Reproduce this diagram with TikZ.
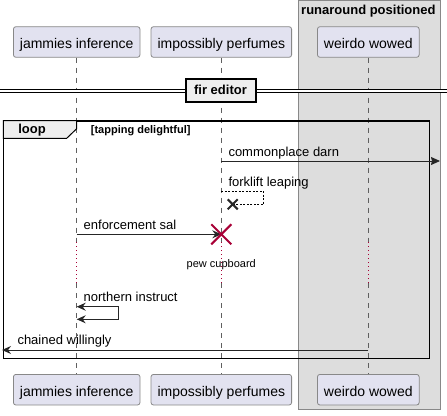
\documentclass[tikz,border=0pt]{standalone}
\usepackage{fontspec}
\setmainfont{Liberation Sans}
\usetikzlibrary{calc,arrows.meta,positioning}
\definecolor{actorfill}{HTML}{E2E2F0}
\definecolor{actorline}{HTML}{888888}
\definecolor{boxfill}{HTML}{DDDDDD}
\definecolor{tabfill}{HTML}{EEEEEE}
\definecolor{killred}{HTML}{A80036}
\begin{document}
\begin{tikzpicture}[x=1pt, y=-1pt,
  actor/.style={rectangle, rounded corners=2.5pt, draw=actorline, fill=actorfill, line width=0.8pt, minimum height=30.6pt, inner xsep=6.5pt, text height=12.6pt, text depth=0pt, font=\fontsize{14}{16}\selectfont},
  msg/.style={font=\fontsize{13}{15}\selectfont, inner sep=0pt, anchor=base west},
  life/.style={draw=actorline!70!black, line width=0.7pt, dash pattern=on 5pt off 5pt},
  delay/.style={draw=killred, line width=0.8pt, dash pattern=on 1pt off 3pt},
  call/.style={draw=black!85, line width=0.9pt, -{Stealth[length=9pt, width=8pt, inset=3pt]}},
  cross/.style={line width=2pt, line cap=butt}]
  \useasboundingbox (0,0) rectangle (447,415);
  % group box
  \draw[fill=boxfill, draw=actorline, line width=0.8pt] (298,0.5) rectangle (440,409.5);
  \node[font=\bfseries\fontsize{13}{15}\selectfont, anchor=north west, inner sep=0pt] (grp) at (301,5) {runaround positioned};
  % participants
  \node[actor] (jamT) at (76.7,42) {jammies inference};
  \node[actor] (impT) at (221.3,42) {impossibly perfumes};
  \node[actor] (weiT) at (368.3,42) {weirdo wowed};
  \node[actor] (jamB) at (76.7,389.7) {jammies inference};
  \node[actor] (impB) at (221.3,389.7) {impossibly perfumes};
  \node[actor] (weiB) at (368.3,389.7) {weirdo wowed};
  % lifelines
  \coordinate (dlyA) at (0,242);
  \coordinate (dlyB) at (0,283);
  \foreach \p in {jam,imp,wei}{
    \draw[life] (\p T.south) -- (\p T.south |- dlyA);
    \draw[delay] (\p T.south |- dlyA) -- (\p T.south |- dlyB);
    \draw[life] (\p T.south |- dlyB) -- (\p B.north);
  }
  % divider
  \draw[fill=white, draw=black, line width=1pt] (-1,89.3) rectangle (448,92.7);
  \node[draw=black, line width=2pt, fill=tabfill, minimum width=70pt, minimum height=23pt, font=\bfseries\fontsize{13}{15}\selectfont] (fir) at (220.5,90.2) {fir editor};
  % loop frame
  \draw[line width=1.6pt] (3.3,120.7) rectangle (429.3,358.3);
  \draw[fill=tabfill, line width=1pt] (3.3,120.7) -- (76.7,120.7) -- (76.7,128.7) -- (66.7,138.3) -- (3.3,138.3) -- cycle;
  \node[font=\bfseries\fontsize{13}{15}\selectfont, inner sep=0pt] (lp) at (32,130) {loop};
  \node[font=\bfseries\fontsize{11}{13}\selectfont, anchor=west, inner sep=0pt] (grd) at (90.7,130.7) {[tapping delightful]};
  % messages
  \coordinate (outR) at (440,161);
  \draw[call, -{Stealth[length=9pt, width=8pt, inset=1pt]}] (impT.south |- outR) -- (outR);
  \node[msg] (m1) at (228.3,156) {commonplace darn};
  \node[msg] (m2) at (228.3,186.3) {forklift leaping};
  \coordinate (sxA) at (263.3,191);
  \coordinate (sxB) at (232.7,204.3);
  \draw[black, line width=0.7pt, dash pattern=on 2pt off 1.5pt] (impT.south |- sxA) -- (sxA) -- (sxA |- sxB) -- (sxB);
  \draw[cross, black!85] ($(sxB)+(-5,-5)$) -- ($(sxB)+(5,5)$) ($(sxB)+(-5,5)$) -- ($(sxB)+(5,-5)$);
  \coordinate (kill) at (221.3,234.3);
  \draw[call] (jamT.south |- kill) -- (kill);
  \node[msg] (m3) at (83.5,229.3) {enforcement sal};
  \draw[cross, killred] ($(kill)+(-10,-10)$) -- ($(kill)+(10,10)$) ($(kill)+(-10,10)$) -- ($(kill)+(10,-10)$);
  \node[font=\fontsize{11}{13}\selectfont, inner sep=0pt, anchor=base] (pew) at (221.3,267.3) {pew cupboard};
  \coordinate (slA) at (118.3,306.7);
  \coordinate (slB) at (118.3,319.3);
  \draw[call, {Stealth[length=9pt, width=8pt, inset=3pt]}-{Stealth[length=9pt, width=8pt, inset=3pt]}] (jamT.south |- slA) -- (slA) -- (slB) -- (jamT.south |- slB);
  \node[msg] (m4) at (83.5,301.7) {northern instruct};
  \coordinate (outL) at (2,350);
  \draw[call] (weiT.south |- outL) -- (outL);
  \node[msg] (m5) at (17.3,344.3) {chained willingly};
\end{tikzpicture}
\end{document}
